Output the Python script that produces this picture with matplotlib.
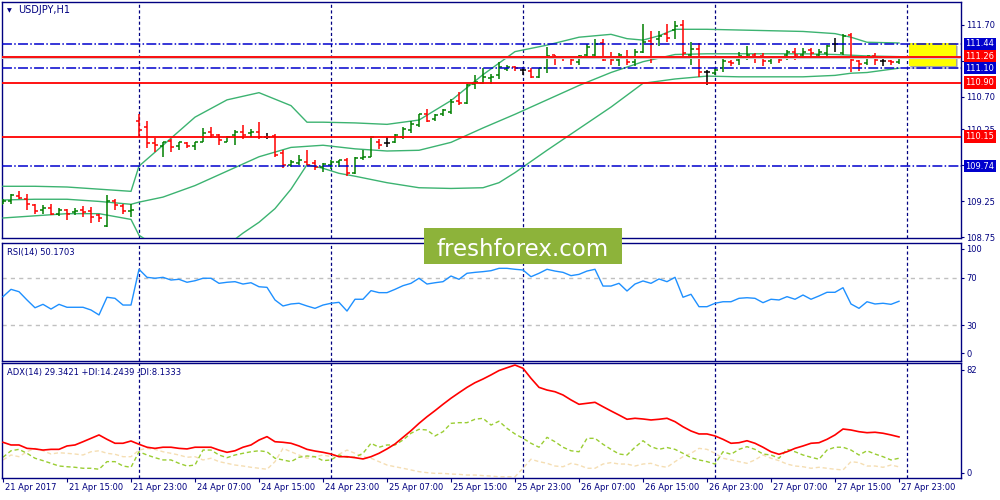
import matplotlib
matplotlib.use('Agg')
import matplotlib.pyplot as plt
from matplotlib.collections import LineCollection
from matplotlib.patches import Rectangle
from matplotlib.transforms import ScaledTranslation

plt.rcParams.update({
    'font.family': 'DejaVu Sans',
    'font.size': 6,
})

NAVY = '#000080'
UP_COLOR = '#008000'
DOWN_COLOR = '#FF0000'
DOJI_COLOR = '#000000'
BAND_COLOR = '#3CB371'
LEVEL_RED = '#FF0000'
LEVEL_BLUE = '#0000CD'
RSI_COLOR = '#1E90FF'
ADX_COLOR = '#FF0000'
PDI_COLOR = '#9ACD32'
MDI_COLOR = '#F5DEB3'
LOGO_GREEN = '#8DB33A'

# USDJPY H1, one bar per hour, 21 Apr 07:00 .. 27 Apr 23:00
opens = [109.22, 109.26, 109.32, 109.28, 109.20, 109.13, 109.16, 109.07, 109.13, 109.10,
         109.13, 109.11, 109.06, 108.91, 109.25, 109.19, 109.11, 110.36, 110.29, 110.06,
         110.02, 110.09, 110.02, 110.06, 110.02, 110.08, 110.22, 110.17, 110.08, 110.17,
         110.22, 110.20, 110.22, 110.15, 110.16, 109.92, 109.75, 109.78, 109.80, 109.78,
         109.73, 109.76, 109.80, 109.82, 109.64, 109.85, 109.87, 110.08, 110.06, 110.08,
         110.15, 110.24, 110.31, 110.47, 110.40, 110.47, 110.49, 110.64, 110.61, 110.88,
         110.89, 110.96, 111.01, 111.09, 111.11, 111.07, 111.06, 110.98, 111.10, 111.28,
         111.26, 111.25, 111.19, 111.29, 111.29, 111.45, 111.24, 111.22, 111.26, 111.18,
         111.33, 111.48, 111.50, 111.58, 111.63, 111.70, 111.28, 111.36, 111.05, 111.04,
         111.10, 111.19, 111.21, 111.26, 111.28, 111.27, 111.20, 111.24, 111.28, 111.33,
         111.28, 111.35, 111.28, 111.31, 111.44, 111.31, 111.56, 111.20, 111.17, 111.27,
         111.20, 111.20, 111.19]
highs = [109.28, 109.35, 109.39, 109.35, 109.21, 109.20, 109.21, 109.16, 109.15, 109.16,
         109.18, 109.17, 109.08, 109.34, 109.28, 109.21, 109.22, 110.47, 110.36, 110.13,
         110.08, 110.11, 110.08, 110.08, 110.08, 110.27, 110.29, 110.19, 110.16, 110.24,
         110.31, 110.25, 110.35, 110.20, 110.18, 109.96, 109.83, 109.89, 109.96, 109.83,
         109.79, 109.82, 109.83, 109.85, 109.86, 109.97, 110.16, 110.11, 110.15, 110.19,
         110.29, 110.36, 110.47, 110.53, 110.47, 110.53, 110.67, 110.77, 110.88, 111.01,
         111.10, 111.02, 111.19, 111.14, 111.13, 111.12, 111.10, 111.10, 111.40, 111.29,
         111.27, 111.27, 111.28, 111.43, 111.51, 111.50, 111.33, 111.31, 111.35, 111.36,
         111.72, 111.62, 111.62, 111.72, 111.75, 111.77, 111.47, 111.45, 111.08, 111.10,
         111.24, 111.22, 111.33, 111.41, 111.31, 111.31, 111.26, 111.26, 111.35, 111.38,
         111.38, 111.38, 111.36, 111.42, 111.52, 111.58, 111.59, 111.22, 111.27, 111.31,
         111.27, 111.22, 111.26]
lows = [109.21, 109.21, 109.28, 109.13, 109.08, 109.08, 109.06, 109.05, 108.99, 109.06,
        109.04, 108.95, 108.97, 108.89, 109.13, 109.08, 109.03, 110.15, 109.99, 109.93,
        109.86, 109.94, 109.96, 109.99, 109.97, 110.07, 110.13, 110.04, 110.07, 110.03,
        110.11, 110.14, 110.11, 110.11, 109.87, 109.71, 109.73, 109.76, 109.75, 109.69,
        109.66, 109.70, 109.73, 109.60, 109.63, 109.83, 109.86, 109.98, 110.01, 110.06,
        110.12, 110.20, 110.29, 110.35, 110.37, 110.43, 110.47, 110.59, 110.60, 110.81,
        110.88, 110.88, 110.95, 111.06, 111.06, 111.01, 110.96, 110.97, 111.03, 111.14,
        111.20, 111.14, 111.15, 111.27, 111.26, 111.20, 111.14, 111.13, 111.14, 111.13,
        111.31, 111.17, 111.41, 111.47, 111.50, 111.27, 111.14, 110.98, 110.87, 111.01,
        111.05, 111.13, 111.14, 111.21, 111.17, 111.13, 111.16, 111.17, 111.22, 111.21,
        111.24, 111.25, 111.25, 111.26, 111.33, 111.28, 111.05, 111.06, 111.14, 111.14,
        111.13, 111.14, 111.16]
closes = [109.26, 109.34, 109.30, 109.21, 109.11, 109.16, 109.08, 109.13, 109.08, 109.12,
          109.10, 109.04, 109.02, 109.26, 109.20, 109.11, 109.13, 110.24, 110.06, 110.04,
          110.07, 110.01, 110.07, 110.02, 110.07, 110.20, 110.17, 110.10, 110.15, 110.22,
          110.17, 110.22, 110.15, 110.15, 109.89, 109.76, 109.80, 109.82, 109.76, 109.73,
          109.77, 109.80, 109.82, 109.64, 109.85, 109.87, 110.15, 110.03, 110.06, 110.17,
          110.26, 110.33, 110.46, 110.37, 110.45, 110.52, 110.63, 110.61, 110.87, 110.91,
          110.98, 110.98, 111.11, 111.11, 111.10, 111.07, 110.98, 111.10, 111.27, 111.26,
          111.24, 111.21, 111.27, 111.39, 111.43, 111.22, 111.21, 111.28, 111.18, 111.32,
          111.47, 111.43, 111.54, 111.52, 111.69, 111.31, 111.36, 111.05, 111.05, 111.07,
          111.20, 111.17, 111.27, 111.28, 111.25, 111.20, 111.24, 111.21, 111.32, 111.28,
          111.33, 111.31, 111.32, 111.41, 111.44, 111.55, 111.21, 111.16, 111.27, 111.21,
          111.20, 111.19, 111.25]

# Bollinger bands read at selected bars
band_up_idx = [0, 4, 8, 12, 16, 17, 20, 24, 28, 32, 36, 38, 40, 44, 48, 52, 56, 60, 64, 68,
               72, 76, 78, 80, 82, 84, 88, 92, 96, 100, 104, 106, 108, 112]
band_up = [109.46, 109.46, 109.45, 109.42, 109.39, 109.74, 110.03, 110.42, 110.66, 110.76,
           110.58, 110.35, 110.35, 110.34, 110.32, 110.38, 110.65, 111.01, 111.33, 111.42,
           111.53, 111.57, 111.51, 111.49, 111.55, 111.64, 111.64, 111.63, 111.62, 111.61,
           111.58, 111.53, 111.46, 111.45]
band_mid_idx = [0, 4, 8, 12, 16, 17, 20, 24, 28, 32, 36, 40, 44, 48, 52, 56, 60, 64, 68, 72,
                76, 80, 84, 88, 92, 96, 100, 104, 108, 112]
band_mid = [109.27, 109.28, 109.28, 109.25, 109.21, 109.24, 109.31, 109.47, 109.67, 109.87,
            110.00, 110.03, 109.98, 109.95, 109.96, 110.07, 110.27, 110.46, 110.66, 110.86,
            111.04, 111.19, 111.29, 111.30, 111.30, 111.30, 111.30, 111.29, 111.27, 111.26]
band_low_idx = [0, 4, 8, 12, 16, 17, 20, 24, 28, 30, 32, 34, 36, 38, 40, 42, 44, 48, 52, 56,
                60, 62, 64, 68, 72, 76, 80, 84, 88, 92, 96, 100, 104, 106, 108, 112]
band_low = [109.02, 109.05, 109.08, 109.08, 109.00, 108.78, 108.57, 108.51, 108.64, 108.81,
            108.96, 109.15, 109.42, 109.76, 109.71, 109.64, 109.60, 109.51, 109.44, 109.43,
            109.44, 109.51, 109.65, 109.96, 110.26, 110.56, 110.89, 110.95, 110.99, 110.98,
            110.98, 110.98, 111.00, 111.03, 111.04, 111.10]

red_levels = [111.26, 110.90, 110.15]
blue_levels = [111.44, 111.10, 109.74]
bid_price = 111.25
zone_low, zone_high = 111.13, 111.45
price_ticks = [111.70, 111.20, 110.70, 110.25, 109.75, 109.25, 108.75]
price_tick_labels = ['111.70', '', '110.70', '110.25', '', '109.25', '108.75']

rsi = [54.1, 60.3, 58.3, 51.3, 44.7, 47.6, 43.6, 47.6, 45.1, 45.1, 45.1, 42.8, 38.6,
       53.6, 52.7, 47.0, 47.0,
       77.3, 70.5, 69.7, 70.5, 68.2, 68.8, 66.3, 67.6, 69.7, 69.7, 65.4, 66.3, 66.8, 64.8, 65.9, 62.5, 62.0,
       51.3, 46.2, 47.9, 48.5, 46.2, 44.2, 47.0, 48.5, 49.3, 41.9, 51.9, 51.9,
       59.2, 57.5, 57.5, 60.3, 63.4, 65.4, 69.7, 64.8, 65.9, 66.8, 71.6, 68.8, 73.9, 74.7, 75.3, 76.1, 78.1,
       78.1, 77.3, 76.7, 71.0, 73.9, 77.3, 75.8, 74.7, 71.9, 73.0, 75.8, 77.3,
       63.1, 63.1, 65.4, 58.9, 64.8, 67.4, 65.4, 69.1, 66.8, 70.5, 53.6, 56.1,
       45.6, 45.6, 48.5, 49.8, 49.8, 52.7, 53.2, 52.7, 49.0, 51.9, 51.3, 54.1,
       51.9, 55.5, 51.9, 54.7, 57.8, 57.8, 61.7, 47.9, 44.2, 49.8, 47.9, 48.5, 47.6, 50.2]

adx = [25.5, 23.6, 23.6, 21.2, 20.8, 20.0, 20.5, 20.5, 22.9, 23.6, 25.9, 28.3, 30.7,
       27.6, 24.8, 24.8, 26.4, 24.1, 22.0, 21.2, 22.0, 22.0, 21.2, 20.8, 22.0,
       22.0, 22.0, 20.0, 18.4, 19.5, 22.0, 23.6, 27.1, 29.5, 25.9, 25.5, 24.8, 22.9,
       20.5, 19.3, 18.4, 17.2, 15.3, 15.3, 14.6, 13.7, 15.3, 17.7, 20.8, 24.3, 29.0,
       33.7, 38.9, 43.6, 47.9, 52.4, 56.7, 60.6, 64.4, 67.7, 70.3, 73.2, 76.3,
       78.3, 80.2, 77.9, 70.8, 64.4, 62.5, 61.3, 59.0, 55.5, 52.4, 53.1, 53.8,
       50.7, 47.7, 44.8, 41.8, 42.5, 42.0, 41.3, 41.8, 42.5, 40.1, 36.5, 33.5,
       31.4, 31.4, 30.0, 27.6, 24.8, 25.2, 26.6, 24.8, 22.0, 18.8, 17.0, 18.8,
       21.2, 22.9, 24.8, 25.2, 27.6, 30.7, 34.9, 34.2, 33.0, 32.3, 32.6, 31.9, 30.7, 29.3]
plus_di = [14.9, 19.5, 20.5, 17.7, 14.2, 12.5, 10.6, 8.7, 8.2, 7.8, 7.1, 7.1, 6.4,
           11.8, 11.8, 8.7, 7.8, 18.8, 16.5, 14.6, 13.0, 13.0, 10.6, 8.7, 9.4,
           20.0, 20.0, 16.5, 14.6, 16.5, 17.7, 18.8, 19.5, 18.8, 14.2, 13.0, 11.8, 14.9,
           15.8, 15.3, 12.5, 13.0, 16.5, 14.9, 14.9, 17.7, 24.8, 22.0, 23.6, 23.6, 27.1,
           31.9, 34.7, 34.2, 30.0, 33.0, 38.9, 39.4, 39.4, 41.8, 42.5, 37.7, 40.4,
           35.4, 31.4, 28.3, 24.8, 22.0, 29.0, 25.9, 22.0, 19.5, 18.8, 28.3, 28.3,
           24.1, 20.5, 17.2, 16.5, 22.0, 26.6, 22.4, 20.5, 21.8, 20.5, 17.7, 14.6,
           13.0, 11.8, 10.1, 18.8, 17.0, 20.5, 22.4, 20.5, 17.2, 16.5, 14.2, 20.5,
           18.8, 16.5, 14.9, 13.5, 20.0, 22.0, 22.0, 20.0, 16.5, 19.5, 17.2, 15.3, 13.0, 14.2]
minus_di = [13.0, 16.5, 15.3, 18.8, 21.2, 19.5, 17.2, 18.1, 17.7, 17.2, 16.5, 18.8, 19.5,
            17.7, 17.0, 15.3, 15.3, 20.0, 21.2, 20.5, 18.8, 17.7, 16.5, 14.9, 15.3,
            13.0, 14.2, 11.8, 10.6, 9.4, 8.7, 7.8, 7.1, 6.4, 11.8, 21.2, 18.8, 16.5,
            14.2, 15.3, 16.5, 15.3, 17.0, 20.0, 17.7, 15.3, 14.2, 11.8, 9.4, 8.2, 7.1,
            5.9, 4.7, 4.0, 3.5, 3.5, 3.0, 2.8, 2.3, 2.3, 1.9, 1.6, 1.1,
            1.1, 1.1, 7.1, 13.5, 11.8, 10.6, 8.7, 8.2, 10.6, 9.4, 7.1, 7.1,
            10.1, 11.1, 10.1, 10.1, 8.7, 10.1, 10.6, 8.7, 7.8, 11.8, 15.3, 17.7,
            21.2, 20.5, 17.7, 14.2, 13.0, 11.8, 10.6, 13.0, 16.5, 14.2, 12.5, 10.1,
            8.7, 8.2, 7.1, 7.8, 7.1, 6.4, 5.9, 11.8, 11.1, 8.7, 8.7, 7.8, 9.4, 8.1]

time_labels = ['21 Apr 2017', '21 Apr 15:00', '21 Apr 23:00', '24 Apr 07:00', '24 Apr 15:00',
               '24 Apr 23:00', '25 Apr 07:00', '25 Apr 15:00', '25 Apr 23:00', '26 Apr 07:00',
               '26 Apr 15:00', '26 Apr 23:00', '27 Apr 07:00', '27 Apr 15:00', '27 Apr 23:00']
label_step = 8
day_breaks = [17, 41, 65, 89, 113]

W, H = 1000, 500
fig = plt.figure(figsize=(10, 5), dpi=100, facecolor='white')


def px_axes(x0, y0, x1, y1):
    return fig.add_axes([x0 / W, 1 - y1 / H, (x1 - x0) / W, (y1 - y0) / H])


ax = px_axes(2, 2, 961, 238)
ax_rsi = px_axes(2, 242.5, 961, 360.5)
ax_adx = px_axes(2, 362.5, 961, 478.3)

XLIM = (-0.125, 119.75)
for a in (ax, ax_rsi, ax_adx):
    a.set_xlim(*XLIM)
    for s in a.spines.values():
        s.set_color(NAVY)
        s.set_linewidth(1)
    a.yaxis.tick_right()
    a.tick_params(axis='y', direction='out', length=2.2, width=0.8, color=NAVY,
                  labelcolor=NAVY, pad=1.5, labelsize=6)
    for d in day_breaks:
        a.axvline(d, color=NAVY, lw=0.9, ls=(0, (2.5, 2)), zorder=1.5)

# ---- main price panel
ax.set_ylim(108.742, 112.019)
ax.set_xticks([])

segs, cols = [], []
for i, (o, h, l, c) in enumerate(zip(opens, highs, lows, closes)):
    col = UP_COLOR if c > o else DOWN_COLOR if c < o else DOJI_COLOR
    segs += [[(i, l), (i, h)], [(i - 0.375, o), (i, o)], [(i, c), (i + 0.375, c)]]
    cols += [col] * 3
ax.add_collection(LineCollection(segs, colors=cols, linewidths=1.1, zorder=4))

for idx, vals in ((band_up_idx, band_up), (band_mid_idx, band_mid), (band_low_idx, band_low)):
    ax.plot(idx, vals, color=BAND_COLOR, lw=1, zorder=3)

# yellow zone with soft shadow
zx0, zx1 = 113.25, 119.125
ax.add_patch(Rectangle((zx0 + 0.3, zone_low - 0.04), zx1 - zx0, zone_high - zone_low,
                       fc='#909090', ec='none', alpha=0.45, zorder=2))
ax.add_patch(Rectangle((zx0 + 0.15, zone_low - 0.02), zx1 - zx0, zone_high - zone_low,
                       fc='#707070', ec='none', alpha=0.45, zorder=2.1))
ax.add_patch(Rectangle((zx0, zone_low), zx1 - zx0, zone_high - zone_low,
                       fc='#FFFF00', ec='none', zorder=2.2))

ax.axhline(bid_price, color='#C8C8C8', lw=2.2, zorder=4.5)
for lv in red_levels:
    ax.axhline(lv, color=LEVEL_RED, lw=1.3, zorder=5)
for lv in blue_levels:
    ax.axhline(lv, color=LEVEL_BLUE, lw=1.1, ls=(0, (6.5, 1.5, 1, 1.5)), zorder=5)

ax.set_yticks(price_ticks)
ax.set_yticklabels(price_tick_labels)

for lv, col in [(v, LEVEL_RED) for v in red_levels] + [(v, LEVEL_BLUE) for v in blue_levels]:
    ax.annotate(f'{lv:.2f}', xy=(1.0, lv), xycoords=('axes fraction', 'data'),
                xytext=(3.2, 0), textcoords='offset points', ha='left', va='center',
                color='white', fontsize=6, annotation_clip=False, zorder=10,
                bbox=dict(boxstyle='square,pad=0.2', fc=col, ec='none'))

fig.text(0.0065, 1 - 10.5 / H, '\u25BC', color=NAVY, fontsize=4.5, ha='left', va='center')
fig.text(0.018, 1 - 10 / H, 'USDJPY,H1', color=NAVY, fontsize=7, ha='left', va='center')

# ---- RSI panel
ax_rsi.set_ylim(0, 100)
ax_rsi.set_xticks([])
for lv in (70, 30):
    ax_rsi.axhline(lv, color='#C0C0C0', lw=1, ls=(0, (3, 3)), zorder=1)
ax_rsi.plot(range(len(rsi)), rsi, color=RSI_COLOR, lw=1, zorder=3)
ax_rsi.set_yticks([6, 30, 70, 94.5])
ax_rsi.set_yticklabels(['0', '30', '70', '100'])
fig.text(0.007, 1 - 252 / H, 'RSI(14) 50.1703', color=NAVY, fontsize=6,
         ha='left', va='center')

# ---- ADX panel
ax_adx.set_ylim(0, 82)
xs = range(len(adx))
ax_adx.plot(xs, minus_di, color=MDI_COLOR, lw=1, ls=(0, (3, 2)), zorder=2)
ax_adx.plot(xs, plus_di, color=PDI_COLOR, lw=1, ls=(0, (3, 2)), zorder=2.5)
ax_adx.plot(xs, adx, color=ADX_COLOR, lw=1.2, zorder=3)
ax_adx.set_yticks([4, 76.7])
ax_adx.set_yticklabels(['0', '82'])
fig.text(0.007, 1 - 372 / H, 'ADX(14) 29.3421 +DI:14.2439 -DI:8.1333', color=NAVY,
         fontsize=6, ha='left', va='center')

ax_adx.set_xticks(range(0, label_step * len(time_labels), label_step))
ax_adx.set_xticklabels(time_labels)
ax_adx.tick_params(axis='x', direction='out', length=3, width=0.8, color=NAVY,
                   labelcolor=NAVY, pad=0.5, labelsize=6)
shift = ScaledTranslation(1.5 / 72, 0, fig.dpi_scale_trans)
for lbl in ax_adx.get_xticklabels():
    lbl.set_horizontalalignment('left')
    lbl.set_transform(lbl.get_transform() + shift)

# ---- watermark logo
fig.patches.append(Rectangle((424 / W, 1 - 264 / H), 198 / W, 36 / H,
                             transform=fig.transFigure, fc=LOGO_GREEN, ec='none', zorder=10))
fig.text(523 / W, 1 - 255.5 / H, 'freshforex.com', color='white', fontsize=16.5,
         ha='center', va='baseline', zorder=11)

fig.savefig('out.png', dpi=100, facecolor='white')
